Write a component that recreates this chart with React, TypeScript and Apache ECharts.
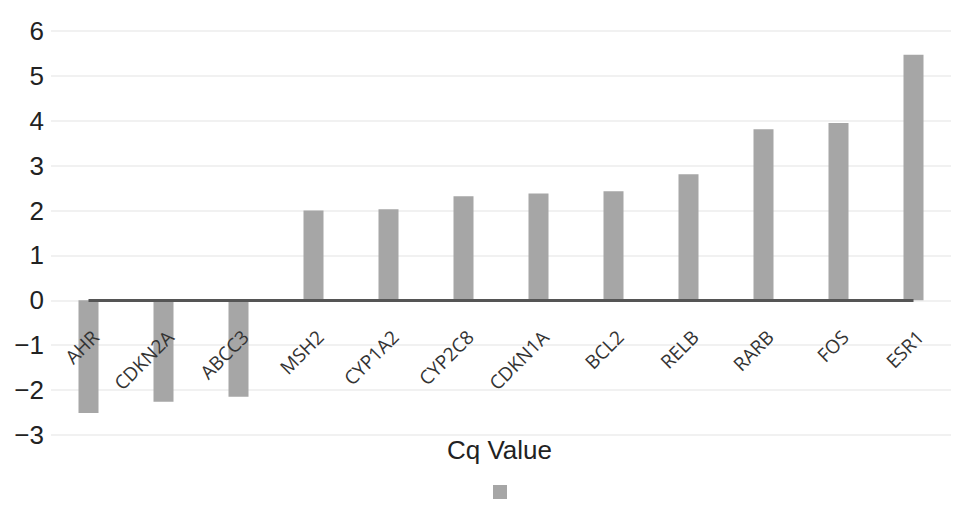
import React, { useEffect, useRef } from "react";
import * as echarts from "echarts";

const genes = ["AHR", "CDKN2A", "ABCC3", "MSH2", "CYP1A2", "CYP2C8", "CDKN1A", "BCL2", "RELB", "RARB", "FOS", "ESR1"];
const cqValues = [-2.51, -2.26, -2.15, 2.0, 2.03, 2.32, 2.38, 2.43, 2.81, 3.81, 3.95, 5.47];
const seriesName = "Cq Value";
const yMin = -3;
const yMax = 6;
const yStep = 1;

export default function App() {
  const ref = useRef<HTMLDivElement>(null);
  useEffect(() => {
    if (!ref.current) return;
    const chart = echarts.init(ref.current, undefined, { renderer: "svg" });
    chart.setOption({
      animation: false,
      backgroundColor: "#ffffff",
      title: {
        text: seriesName,
        left: 447,
        top: 437,
        padding: 0,
        textStyle: { fontFamily: "Liberation Sans", fontSize: 26, fontWeight: "normal", color: "#222" },
      },
      legend: {
        data: [seriesName],
        left: 493,
        top: 485,
        padding: 0,
        itemWidth: 14,
        itemHeight: 14,
        icon: "rect",
        formatter: () => "",
        textStyle: { fontSize: 1 },
      },
      grid: { left: 51, right: 18, top: 31, bottom: 80, outerBoundsMode: "none", containLabel: false },
      xAxis: {
        type: "category",
        position: "bottom",
        offset: -135,
        z: 10,
        data: genes,
        axisLine: { show: false, onZero: false },
        axisTick: { show: false },
        axisLabel: {
          interval: 0,
          rotate: 45,
          margin: 27,
          align: "right",
          verticalAlign: "top",
          fontFamily: "Open Sans",
          fontSize: 19,
          color: "#333",
        },
        splitLine: { show: false },
      },
      yAxis: {
        type: "value",
        min: yMin,
        max: yMax,
        interval: yStep,
        axisLine: { show: false },
        axisTick: { show: false },
        axisLabel: {
          margin: 7,
          fontFamily: "Liberation Sans",
          fontSize: 26,
          color: "#222",
          padding: [0, 0, 6, 0],
          formatter: (v: number) => String(v).replace("-", "\u2212"),
        },
        splitLine: { lineStyle: { color: "#ececec", width: 1.5 } },
      },
      series: [
        {
          name: seriesName,
          type: "bar",
          data: cqValues,
          barWidth: 20,
          itemStyle: { color: "#a6a6a6" },
          markLine: {
            silent: true,
            symbol: "none",
            label: { show: false },
            lineStyle: { color: "#555555", width: 3, type: "solid" },
            data: [[{ coord: [0, 0] }, { coord: [genes.length - 1, 0] }]],
          },
        },
      ],
    });
    return () => chart.dispose();
  }, []);
  return <div ref={ref} style={{ width: 969, height: 515, margin: -8 }} />;
}
